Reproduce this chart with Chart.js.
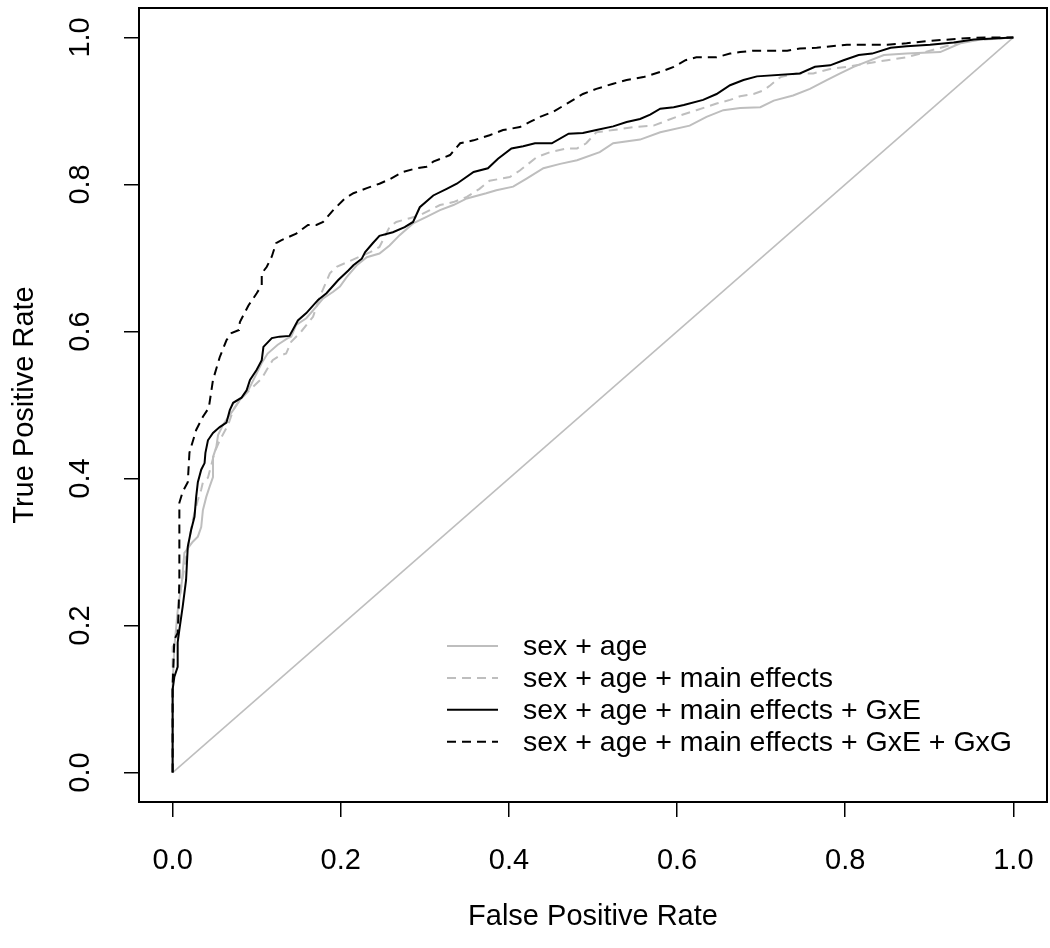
<!DOCTYPE html>
<html>
<head>
<meta charset="utf-8">
<title>ROC curves</title>
<script src="https://cdn.jsdelivr.net/npm/chart.js@4.4.0/dist/chart.umd.min.js"></script>
<style>
  body { margin: 0; background: #fff; }
  canvas { display: block; }
</style>
</head>
<body>
<canvas id="canvas" width="1050" height="948"></canvas>
<script>
// legend labels, in legend order
const labels = ['sex + age', 'sex + age + main effects', 'sex + age + main effects + GxE', 'sex + age + main effects + GxE + GxG'];
const tickVals = [0, 0.2, 0.4, 0.6, 0.8, 1.0];

// sex + age (grey solid)
const fprAge = [0,0,0.002,0.006,0.011,0.014,0.024,0.03,0.034,0.036,0.04,0.044,0.048,0.048,0.052,0.054,0.06,0.064,0.072,0.08,0.09,0.1,0.106,0.113,0.125,0.137,0.141,0.147,0.159,0.171,0.179,0.191,0.199,0.207,0.219,0.231,0.246,0.258,0.27,0.286,0.302,0.318,0.334,0.35,0.373,0.385,0.405,0.421,0.441,0.461,0.481,0.508,0.524,0.556,0.58,0.615,0.635,0.655,0.675,0.699,0.715,0.738,0.758,0.778,0.794,0.81,0.846,0.873,0.913,0.937,0.961,1];
const tprAge = [0,0.12,0.17,0.22,0.26,0.299,0.314,0.321,0.334,0.357,0.375,0.389,0.402,0.429,0.443,0.459,0.473,0.48,0.493,0.507,0.52,0.543,0.557,0.57,0.582,0.591,0.593,0.609,0.618,0.634,0.645,0.654,0.661,0.674,0.69,0.701,0.706,0.717,0.731,0.747,0.756,0.765,0.772,0.781,0.788,0.792,0.797,0.808,0.822,0.828,0.833,0.844,0.856,0.861,0.871,0.88,0.892,0.901,0.904,0.905,0.914,0.921,0.93,0.942,0.951,0.96,0.976,0.978,0.98,0.992,0.997,1];

// sex + age + main effects (grey dashed)
const fprMain = [0,0,0,0.006,0.008,0.012,0.016,0.024,0.03,0.034,0.036,0.042,0.05,0.056,0.066,0.072,0.08,0.094,0.106,0.112,0.119,0.127,0.135,0.141,0.153,0.167,0.175,0.187,0.195,0.209,0.223,0.235,0.246,0.258,0.266,0.282,0.294,0.306,0.318,0.334,0.35,0.365,0.377,0.401,0.413,0.433,0.449,0.469,0.481,0.492,0.504,0.524,0.548,0.572,0.588,0.604,0.623,0.647,0.663,0.675,0.691,0.703,0.711,0.723,0.742,0.762,0.782,0.802,0.822,0.85,0.873,0.889,0.929,0.953,1];
const tprMain = [0,0.126,0.171,0.181,0.235,0.266,0.293,0.344,0.371,0.385,0.395,0.401,0.436,0.452,0.473,0.493,0.507,0.523,0.536,0.548,0.561,0.567,0.57,0.586,0.6,0.62,0.647,0.679,0.688,0.695,0.702,0.708,0.715,0.742,0.749,0.754,0.758,0.765,0.772,0.776,0.783,0.794,0.805,0.81,0.819,0.837,0.844,0.849,0.849,0.856,0.871,0.874,0.878,0.88,0.887,0.894,0.901,0.91,0.915,0.92,0.923,0.928,0.935,0.946,0.951,0.951,0.957,0.96,0.964,0.969,0.973,0.978,0.991,0.996,1];

// + GxE (black solid)
const fprGxE = [0,0,0,0.002,0.006,0.006,0.008,0.012,0.016,0.018,0.022,0.026,0.028,0.03,0.034,0.038,0.039,0.042,0.048,0.056,0.064,0.068,0.072,0.082,0.088,0.092,0.1,0.106,0.108,0.118,0.127,0.139,0.149,0.159,0.173,0.183,0.197,0.209,0.215,0.225,0.229,0.238,0.246,0.262,0.276,0.286,0.294,0.31,0.326,0.338,0.358,0.375,0.387,0.403,0.417,0.431,0.451,0.471,0.488,0.504,0.524,0.54,0.556,0.568,0.58,0.596,0.608,0.631,0.647,0.663,0.679,0.695,0.746,0.764,0.782,0.798,0.816,0.832,0.854,0.873,0.901,0.929,0.953,1];
const tprGxE = [0,0.099,0.113,0.13,0.144,0.177,0.194,0.226,0.262,0.307,0.33,0.348,0.375,0.395,0.412,0.421,0.435,0.452,0.462,0.47,0.476,0.493,0.503,0.51,0.52,0.534,0.548,0.561,0.579,0.591,0.593,0.594,0.615,0.625,0.643,0.652,0.67,0.683,0.69,0.699,0.708,0.72,0.73,0.735,0.742,0.749,0.769,0.785,0.794,0.801,0.817,0.822,0.835,0.849,0.852,0.856,0.856,0.869,0.87,0.874,0.879,0.885,0.889,0.895,0.903,0.905,0.908,0.915,0.923,0.935,0.942,0.947,0.951,0.96,0.962,0.969,0.976,0.978,0.986,0.988,0.99,0.993,0.997,1];

// + GxE + GxG (black dashed)
const fprGxG = [0,0,0,0.002,0.006,0.007,0.008,0.008,0.012,0.018,0.02,0.022,0.028,0.036,0.043,0.048,0.056,0.064,0.07,0.079,0.08,0.09,0.1,0.106,0.106,0.112,0.118,0.123,0.129,0.147,0.161,0.171,0.179,0.191,0.205,0.215,0.231,0.246,0.258,0.274,0.29,0.302,0.31,0.33,0.342,0.358,0.377,0.393,0.413,0.425,0.437,0.453,0.469,0.488,0.504,0.524,0.54,0.56,0.58,0.596,0.61,0.623,0.647,0.663,0.675,0.691,0.731,0.746,0.766,0.802,0.85,0.873,0.897,0.953,1];
const tprGxG = [0,0.099,0.117,0.181,0.19,0.217,0.262,0.367,0.382,0.395,0.435,0.443,0.466,0.484,0.496,0.534,0.565,0.588,0.598,0.602,0.613,0.635,0.652,0.663,0.679,0.688,0.702,0.72,0.724,0.733,0.745,0.745,0.749,0.765,0.781,0.788,0.795,0.801,0.807,0.817,0.822,0.824,0.831,0.84,0.856,0.86,0.867,0.874,0.878,0.885,0.892,0.899,0.91,0.923,0.93,0.937,0.942,0.946,0.953,0.96,0.969,0.973,0.973,0.978,0.98,0.982,0.982,0.985,0.986,0.99,0.99,0.992,0.995,0.9996,1];

// chance diagonal
const fprChance = [0, 1];
const tprChance = [0, 1];

const grey = '#bebebe';
const dash = [9, 6];
const font = { family: '"Liberation Sans", Arial, Helvetica, sans-serif', size: 29 };

function pts(xs, ys) {
  return xs.map(function (x, i) { return { x: x, y: ys[i] }; });
}

// fixed axis sizes, and no extra margin for overhanging tick labels
function fitAxis(ax, size) {
  if (ax.isHorizontal()) ax.height = size; else ax.width = size;
  ax.paddingLeft = 0; ax.paddingRight = 0; ax.paddingTop = 0; ax.paddingBottom = 0;
}

// frame round the plot region, like R's box()
const boxPlugin = {
  id: 'box',
  afterDatasetsDraw(chart) {
    const a = chart.chartArea, ctx = chart.ctx;
    ctx.save();
    ctx.strokeStyle = '#000';
    ctx.lineWidth = 2;
    ctx.strokeRect(a.left, a.top, a.right - a.left, a.bottom - a.top);
    ctx.restore();
  }
};

// legend drawn inside the plot, bottom right
const legendPlugin = {
  id: 'rlegend',
  afterDraw(chart) {
    const ctx = chart.ctx;
    ctx.save();
    ctx.font = '28.5px "Liberation Sans", Arial, sans-serif';
    ctx.textBaseline = 'middle';
    ctx.fillStyle = '#000';
    for (let i = 0; i < labels.length; i++) {
      const ds = chart.data.datasets[i];
      const y = 646 + i * 31.9;
      ctx.strokeStyle = ds.borderColor;
      ctx.lineWidth = ds.borderWidth;
      ctx.setLineDash(ds.borderDash || []);
      ctx.beginPath();
      ctx.moveTo(447, y);
      ctx.lineTo(498, y);
      ctx.stroke();
      ctx.fillText(ds.label, 523, y + 1);
    }
    ctx.restore();
  }
};

new Chart(document.getElementById('canvas'), {
  type: 'scatter',
  data: {
    datasets: [
      { label: labels[0], data: pts(fprAge, tprAge), borderColor: grey, borderWidth: 2, order: 4 },
      { label: labels[1], data: pts(fprMain, tprMain), borderColor: grey, borderWidth: 2, borderDash: dash, order: 3 },
      { label: labels[2], data: pts(fprGxE, tprGxE), borderColor: '#000', borderWidth: 2, order: 2 },
      { label: labels[3], data: pts(fprGxG, tprGxG), borderColor: '#000', borderWidth: 2, borderDash: dash, order: 1 },
      { label: 'chance', data: pts(fprChance, tprChance), borderColor: grey, borderWidth: 1.6, order: 5 }
    ]
  },
  options: {
    responsive: false,
    animation: false,
    showLine: true,
    layout: { padding: { top: 8, right: 3, left: 0, bottom: 0 } },
    elements: { point: { radius: 0 }, line: { tension: 0, fill: false } },
    plugins: { legend: { display: false }, tooltip: { enabled: false } },
    scales: {
      x: {
        type: 'linear', min: -0.04, max: 1.04,
        afterBuildTicks: function (ax) { ax.ticks = tickVals.map(function (v) { return { value: v }; }); },
        afterFit: function (ax) { fitAxis(ax, 146); },
        grid: { drawOnChartArea: false, drawTicks: true, tickLength: 15, color: '#000', lineWidth: 1.5 },
        border: { display: false },
        ticks: { font: font, color: '#000', padding: 27, maxRotation: 0, callback: function (v) { return Number(v).toFixed(1); } },
        title: { display: true, text: 'False Positive Rate', font: font, color: '#000', padding: { top: 0, bottom: 14 } }
      },
      y: {
        type: 'linear', min: -0.04, max: 1.04,
        afterBuildTicks: function (ax) { ax.ticks = tickVals.map(function (v) { return { value: v }; }); },
        afterFit: function (ax) { fitAxis(ax, 139); },
        grid: { drawOnChartArea: false, drawTicks: true, tickLength: 15, color: '#000', lineWidth: 1.5 },
        border: { display: false },
        ticks: { font: font, color: '#000', padding: 23, minRotation: 90, maxRotation: 90, crossAlign: 'center', callback: function (v) { return Number(v).toFixed(1); } },
        title: { display: true, text: 'True Positive Rate', font: font, color: '#000', padding: { top: 8, bottom: 0 } }
      }
    }
  },
  plugins: [boxPlugin, legendPlugin]
});
</script>
</body>
</html>
